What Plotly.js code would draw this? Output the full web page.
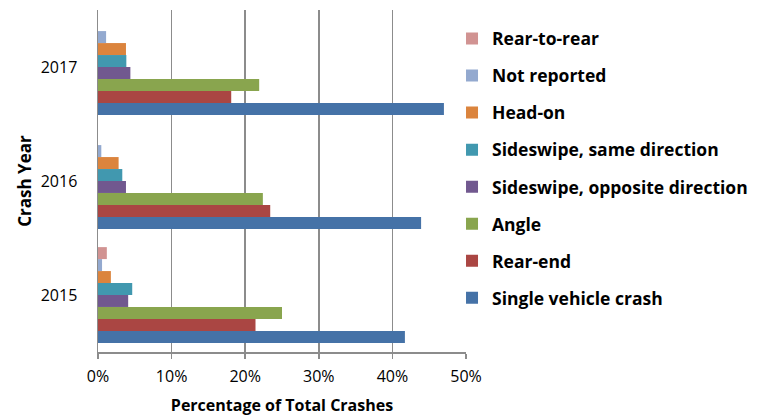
<!DOCTYPE html>
<html>
<head>
<meta charset="utf-8">
<script src="https://cdn.plot.ly/plotly-3.0.1.min.js"></script>
<style>html,body{margin:0;padding:0;background:#fff;}#chart{width:757px;height:416px;}</style>
</head>
<body>
<div id="chart"></div>
<script>
const years = ['2015', '2016', '2017'];
const seriesNames = ['Single vehicle crash', 'Rear-end', 'Angle', 'Sideswipe, opposite direction',
  'Sideswipe, same direction', 'Head-on', 'Not reported', 'Rear-to-rear'];
const singleVehicle = [41.7, 43.9, 47.0];
const rearEnd = [21.4, 23.4, 18.1];
const angle = [25.0, 22.4, 21.9];
const sideswipeOpposite = [4.1, 3.8, 4.4];
const sideswipeSame = [4.65, 3.3, 3.85];
const headOn = [1.75, 2.8, 3.8];
const notReported = [0.55, 0.45, 1.1];
const rearToRear = [1.2, 0, 0];
const seriesValues = [singleVehicle, rearEnd, angle, sideswipeOpposite, sideswipeSame, headOn, notReported, rearToRear];
const colors = ['#4572A7', '#AA4643', '#89A54E', '#71588F', '#4198AF', '#DB843D', '#93A9CF', '#D19392'];

const FONT = '"Open Sans", sans-serif';
const n = seriesNames.length;
const traces = seriesNames.map((name, i) => ({
  type: 'bar',
  orientation: 'h',
  name: name,
  y: years,
  x: seriesValues[i].map(v => v / 100),
  legendgroup: 'g' + i,
  legendrank: (n - i) * 10,
  marker: {color: colors[i], line: {width: 0}},
  hoverinfo: 'name+x'
}));

const layout = {
  width: 757, height: 416,
  margin: {l: 98, r: 291, t: 10, b: 64, autoexpand: false},
  paper_bgcolor: '#fff', plot_bgcolor: '#fff',
  barmode: 'group', bargap: 0.16, bargroupgap: 0,
  font: {family: FONT, size: 16, color: '#000'},
  xaxis: {
    range: [0, 0.5], tickvals: [0, 0.1, 0.2, 0.3, 0.4, 0.5], tickformat: '.0%',
    showgrid: true, gridcolor: '#8c8c8c', gridwidth: 1.5,
    showline: true, linecolor: '#8c8c8c', linewidth: 1.5,
    ticks: 'outside', ticklen: 5, tickcolor: '#8c8c8c', tickwidth: 1.5,
    ticklabelstandoff: 4,
    zeroline: false, fixedrange: true,
    tickfont: {family: FONT, size: 16, color: '#000'},
    title: {text: '<b>Percentage of Total Crashes</b>', font: {family: FONT, size: 16, color: '#000'}, standoff: 14}
  },
  yaxis: {
    type: 'category', showgrid: false,
    showline: true, linecolor: '#8c8c8c', linewidth: 1.5,
    ticks: '', ticklabelstandoff: 16, fixedrange: true,
    tickfont: {family: FONT, size: 16, color: '#000'},
    title: {text: '<b>Crash Year</b>', font: {family: FONT, size: 17, color: '#000'}, standoff: 5}
  },
  legend: {
    x: 0.962, xanchor: 'left', y: 0.969, yanchor: 'top',
    bgcolor: '#fff', borderwidth: 0,
    traceorder: 'grouped', tracegroupgap: 11.3,
    font: {family: FONT, size: 17.5, color: '#000', weight: 'bold'}
  },
  showlegend: true
};

Plotly.newPlot('chart', traces, layout, {displayModeBar: false, staticPlot: true});
</script>
</body>
</html>
